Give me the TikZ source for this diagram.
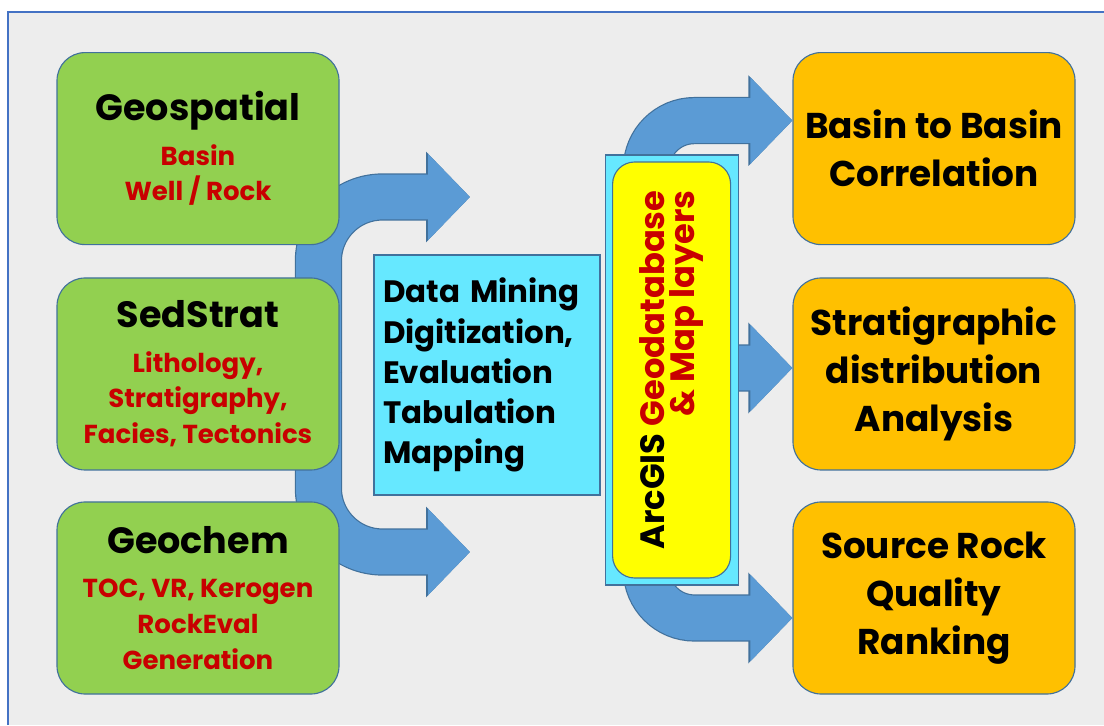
\documentclass[tikz,border=0pt]{standalone}
\usepackage{fontspec}
\setmainfont{Poppins}
\usetikzlibrary{arrows.meta}

\definecolor{bggray}{RGB}{237,237,237}
\definecolor{framebl}{RGB}{68,114,196}
\definecolor{geogreen}{RGB}{146,208,80}
\definecolor{resorange}{RGB}{255,192,0}
\definecolor{minecyan}{RGB}{102,232,255}
\definecolor{gisyellow}{RGB}{255,255,0}
\definecolor{darkred}{RGB}{200,0,0}
\definecolor{flowblue}{RGB}{91,155,213}
\definecolor{edgeblue}{RGB}{65,113,156}

\newcommand{\boxtitle}[1]{{\fontsize{26}{30}\selectfont\color{black}#1}}

\begin{document}
\begin{tikzpicture}[
  box/.style={draw=edgeblue, line width=0.8pt, rounded corners=0.7cm, align=center},
  srcbox/.style={box, fill=geogreen, text=darkred, minimum width=7.05cm, minimum height=4.8cm,
    font=\bfseries\fontsize{18.5}{25.5}\selectfont},
  resbox/.style={box, fill=resorange, minimum width=7.05cm, minimum height=4.8cm,
    font=\bfseries\fontsize{25.5}{34}\selectfont},
  flow/.style={flowblue, line width=1.12cm, rounded corners=1.6cm,
    -{Triangle[width=2.1cm,length=1.05cm]},
    preaction={draw=edgeblue, line width=1.18cm, -{Triangle[width=2.2cm,length=1.1cm]}}}
]

\useasboundingbox (0,0) rectangle (27.6,18.125);

% Background panel with its frame
\fill[bggray] (0.2,0) rectangle (27.6,17.825);
\draw[framebl, line width=1pt] (0.2,0) -- (0.2,17.825) -- (27.6,17.825);

% Ends of the block arrows
\coordinate (trunk) at (7.96,8.8);
\coordinate (upTip) at (11.75,13.2);
\coordinate (downTip) at (11.75,4.325);
\coordinate (gisTop) at (16.16,12);
\coordinate (gisBot) at (16.16,6);

% Left bracket arrows (drawn under the boxes)
\draw[flow] (trunk) |- (upTip);
\draw[flow] (trunk) |- (downTip);

% Output boxes
\node[resbox] (basin) at (23.35,14.41) {Basin to Basin\\Correlation};
\node[resbox] (strat) at (23.35,8.775) {Stratigraphic\\distribution\\Analysis};
\node[resbox] (rank)  at (23.35,3.175) {Source Rock\\Quality\\Ranking};

% Right arrows from the GIS column
\coordinate (midTip) at ([yshift=0.15cm]strat.west);
\draw[flow, rounded corners=1.2cm] (gisTop) |- ([yshift=0.7cm]basin.west);
\draw[flow, rounded corners=1.2cm] (gisBot) |- ([yshift=-0.5cm]rank.west);
\draw[flow] (16.79,8.925) -- (midTip);

% Input boxes
\node[srcbox] (geo)  at (4.95,14.41) {\boxtitle{Geospatial}\\[6pt]Basin\\Well / Rock};
\node[srcbox] (sed)  at (4.95,8.775) {\boxtitle{SedStrat}\\[6pt]Lithology,\\Stratigraphy,\\Facies, Tectonics};
\node[srcbox] (chem) at (4.95,3.175) {\boxtitle{Geochem}\\[6pt]TOC, VR, Kerogen\\RockEval\\Generation};

% Processing box
\node[draw=edgeblue, line width=0.8pt, fill=minecyan, text width=5.2cm, inner sep=0.225cm,
  minimum height=6cm, align=left, font=\bfseries\fontsize{22}{28.5}\selectfont]
  (mine) at (12.175,8.75) {Data Mining\\Digitization,\\Evaluation\\Tabulation\\Mapping};

% GIS column
\node[draw=edgeblue, line width=0.8pt, fill=minecyan, minimum width=3.325cm,
  minimum height=10.75cm] (gisframe) at (16.79,8.875) {};
\node[box, fill=gisyellow, rotate=90, rounded corners=0.55cm, minimum width=10.4cm,
  minimum height=2.95cm, align=right, font=\bfseries\fontsize{24}{21}\selectfont]
  (arcgis) at (gisframe.center) {ArcGIS \textcolor{darkred}{Geodatabase}\\\textcolor{darkred}{\& Map layers}};

\end{tikzpicture}
\end{document}
